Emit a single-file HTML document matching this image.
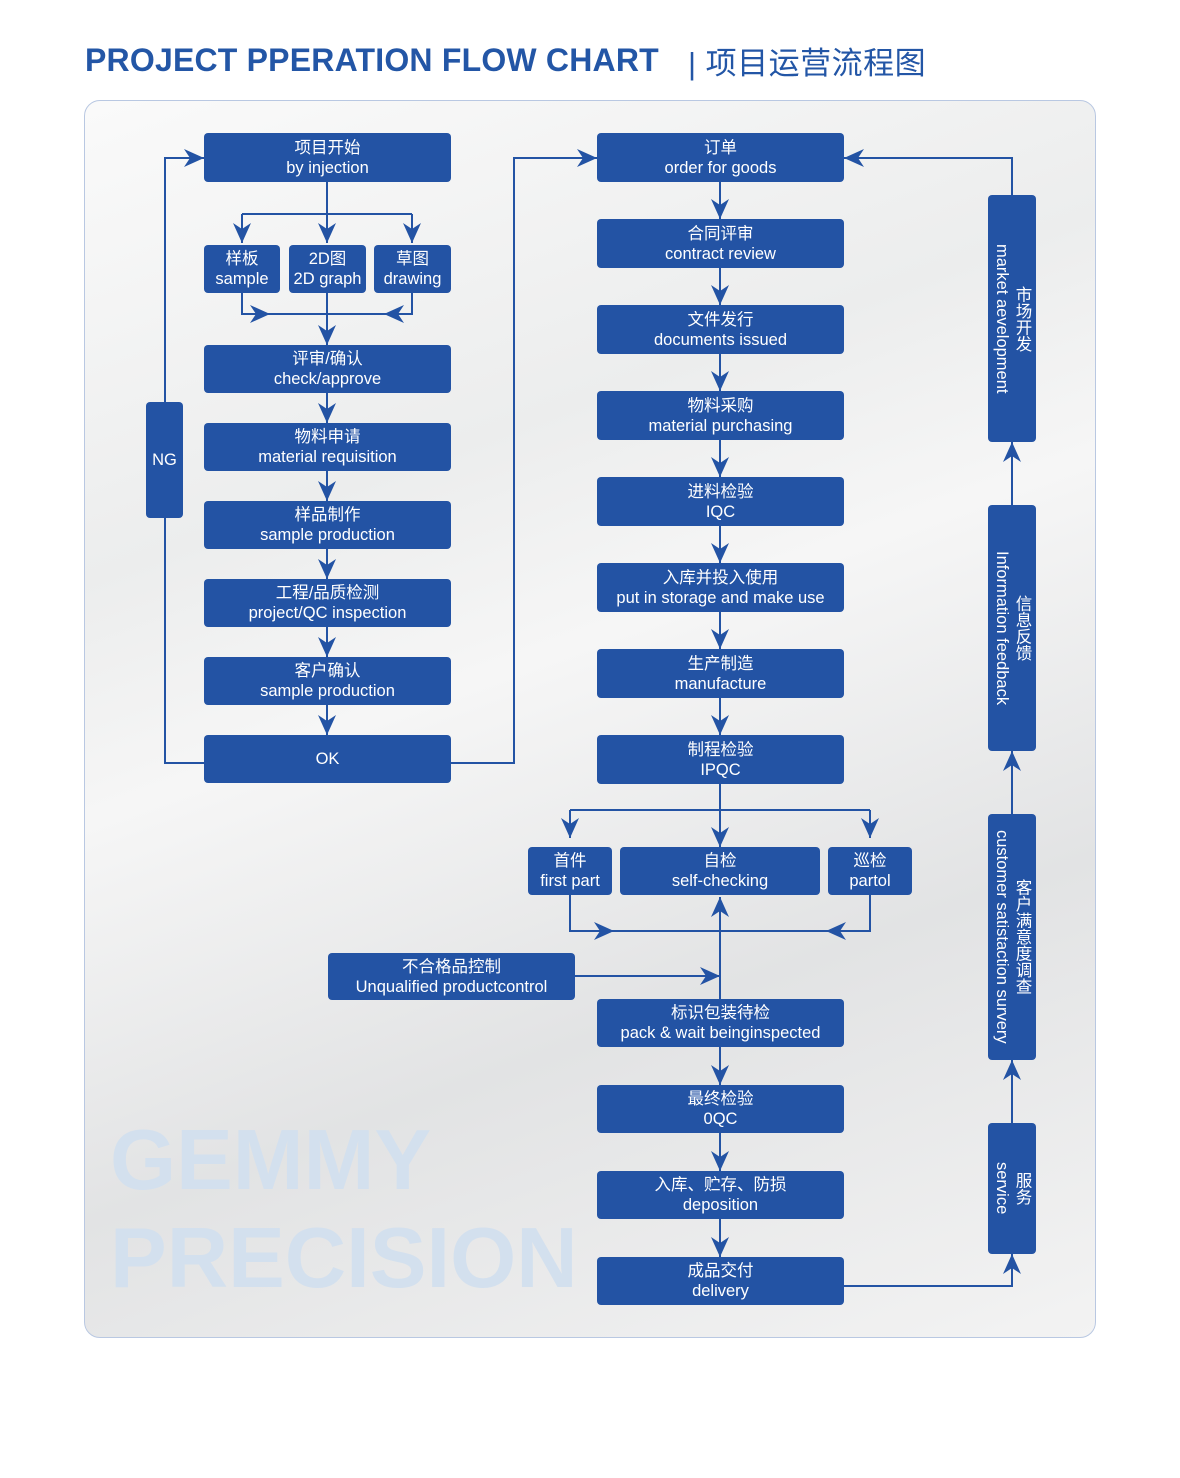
<!DOCTYPE html>
<html><head><meta charset="utf-8"><style>
body{margin:0;width:1180px;height:1478px;background:#fff;position:relative;overflow:hidden;font-family:"Liberation Sans","Noto Sans CJK SC",sans-serif}
.t{position:absolute;top:42px;left:85px;font-size:32px;font-weight:bold;color:#2356a6;white-space:nowrap;letter-spacing:0.2px}
.t2{position:absolute;top:38px;left:688px;font-size:31px;color:#2356a6;white-space:nowrap;letter-spacing:0.5px}
.panel{position:absolute;left:84px;top:100px;width:1010px;height:1236px;border:1px solid #b9c8e2;border-radius:16px;background:linear-gradient(160deg,#fafafa 0%,#eceded 30%,#f6f6f6 45%,#e2e3e4 70%,#f3f3f3 100%);overflow:hidden}
.wm{position:absolute;left:110px;font-size:85px;font-weight:bold;color:#d3e0ee;white-space:nowrap}
.b{position:absolute;background:#2353a4;color:#fff;border-radius:4px;display:flex;flex-direction:column;align-items:center;justify-content:center;font-size:16.5px;line-height:20px;text-align:center;white-space:nowrap}
.v{position:absolute;background:#2353a4;color:#fff;border-radius:4px;display:flex;align-items:center;justify-content:center}
.v div{writing-mode:vertical-rl;font-size:16.5px;line-height:20px;white-space:nowrap;text-align:center}
.v div span{display:block}
svg{position:absolute;left:0;top:0}
</style></head><body>
<div class="t">PROJECT PPERATION FLOW CHART</div>
<div class="t2">|&nbsp;项目运营流程图</div>
<div class="panel"></div>
<div class="wm" style="top:1112px">GEMMY</div>
<div class="wm" style="top:1210px">PRECISION</div>
<svg width="1180" height="1478" fill="none" stroke="#2353a4" stroke-width="2">
<defs><marker id="a" viewBox="0 0 20 20" refX="20" refY="10" markerWidth="20" markerHeight="20" markerUnits="userSpaceOnUse" orient="auto"><path d="M0,1 L20,10 L0,19 L6,10z" fill="#2353a4" stroke="none"/></marker></defs>
<path d="M242 314H412"/><path d="M570 931H870"/><path d="M570 810H870"/><path d="M242 214H412"/>
<g marker-end="url(#a)">
<path d="M327 182V243"/><path d="M242 214V243"/><path d="M412 214V243"/>
<path d="M242 293V314H270"/><path d="M412 293V314H384"/><path d="M327 293V345"/>
<path d="M327 393V423"/><path d="M327 471V501"/><path d="M327 549V579"/><path d="M327 627V657"/><path d="M327 705V735"/>
<path d="M204 763H165V158H204"/>
<path d="M451 763H514V158H597"/>
<path d="M720 182V219"/><path d="M720 268V305"/><path d="M720 354V391"/><path d="M720 440V477"/><path d="M720 526V563"/><path d="M720 612V649"/><path d="M720 698V735"/>
<path d="M720 783V847"/><path d="M570 810V838"/><path d="M870 810V838"/>
<path d="M570 895V931H614"/><path d="M870 895V931H826"/>
<path d="M720 999V897"/><path d="M575 976H720"/>
<path d="M720 1047V1085"/><path d="M720 1133V1171"/><path d="M720 1219V1257"/>
<path d="M844 1286H1012V1254"/><path d="M1012 1123V1060"/><path d="M1012 814V751"/><path d="M1012 505V442"/>
<path d="M1012 195V158H844"/>
</g>
</svg>
<div class="b" style="left:204px;top:133px;width:247px;height:49px">项目开始<span>by injection</span></div>
<div class="b" style="left:204px;top:245px;width:76px;height:48px">样板<span>sample</span></div>
<div class="b" style="left:289px;top:245px;width:77px;height:48px">2D图<span>2D graph</span></div>
<div class="b" style="left:374px;top:245px;width:77px;height:48px">草图<span>drawing</span></div>
<div class="b" style="left:204px;top:345px;width:247px;height:48px">评审/确认<span>check/approve</span></div>
<div class="b" style="left:204px;top:423px;width:247px;height:48px">物料申请<span>material requisition</span></div>
<div class="b" style="left:204px;top:501px;width:247px;height:48px">样品制作<span>sample production</span></div>
<div class="b" style="left:204px;top:579px;width:247px;height:48px">工程/品质检测<span>project/QC inspection</span></div>
<div class="b" style="left:204px;top:657px;width:247px;height:48px">客户确认<span>sample production</span></div>
<div class="b" style="left:204px;top:735px;width:247px;height:48px">OK</div>
<div class="b" style="left:146px;top:402px;width:37px;height:116px">NG</div>
<div class="b" style="left:597px;top:133px;width:247px;height:49px">订单<span>order for goods</span></div>
<div class="b" style="left:597px;top:219px;width:247px;height:49px">合同评审<span>contract review</span></div>
<div class="b" style="left:597px;top:305px;width:247px;height:49px">文件发行<span>documents issued</span></div>
<div class="b" style="left:597px;top:391px;width:247px;height:49px">物料采购<span>material purchasing</span></div>
<div class="b" style="left:597px;top:477px;width:247px;height:49px">进料检验<span>IQC</span></div>
<div class="b" style="left:597px;top:563px;width:247px;height:49px">入库并投入使用<span>put in storage and make use</span></div>
<div class="b" style="left:597px;top:649px;width:247px;height:49px">生产制造<span>manufacture</span></div>
<div class="b" style="left:597px;top:735px;width:247px;height:49px">制程检验<span>IPQC</span></div>
<div class="b" style="left:528px;top:847px;width:84px;height:48px">首件<span>first part</span></div>
<div class="b" style="left:620px;top:847px;width:200px;height:48px">自检<span>self-checking</span></div>
<div class="b" style="left:828px;top:847px;width:84px;height:48px">巡检<span>partol</span></div>
<div class="b" style="left:328px;top:953px;width:247px;height:47px">不合格品控制<span>Unqualified productcontrol</span></div>
<div class="b" style="left:597px;top:999px;width:247px;height:48px">标识包装待检<span>pack &amp; wait beinginspected</span></div>
<div class="b" style="left:597px;top:1085px;width:247px;height:48px">最终检验<span>0QC</span></div>
<div class="b" style="left:597px;top:1171px;width:247px;height:48px">入库、贮存、防损<span>deposition</span></div>
<div class="b" style="left:597px;top:1257px;width:247px;height:48px">成品交付<span>delivery</span></div>
<div class="v" style="left:988px;top:195px;width:48px;height:247px"><div><span>市场开发</span><span>market aevelopment</span></div></div>
<div class="v" style="left:988px;top:505px;width:48px;height:246px"><div><span>信息反馈</span><span>Information feedback</span></div></div>
<div class="v" style="left:988px;top:814px;width:48px;height:246px"><div><span>客户满意度调查</span><span>customer satistaction survery</span></div></div>
<div class="v" style="left:988px;top:1123px;width:48px;height:131px"><div><span>服务</span><span>service</span></div></div>
</body></html>
